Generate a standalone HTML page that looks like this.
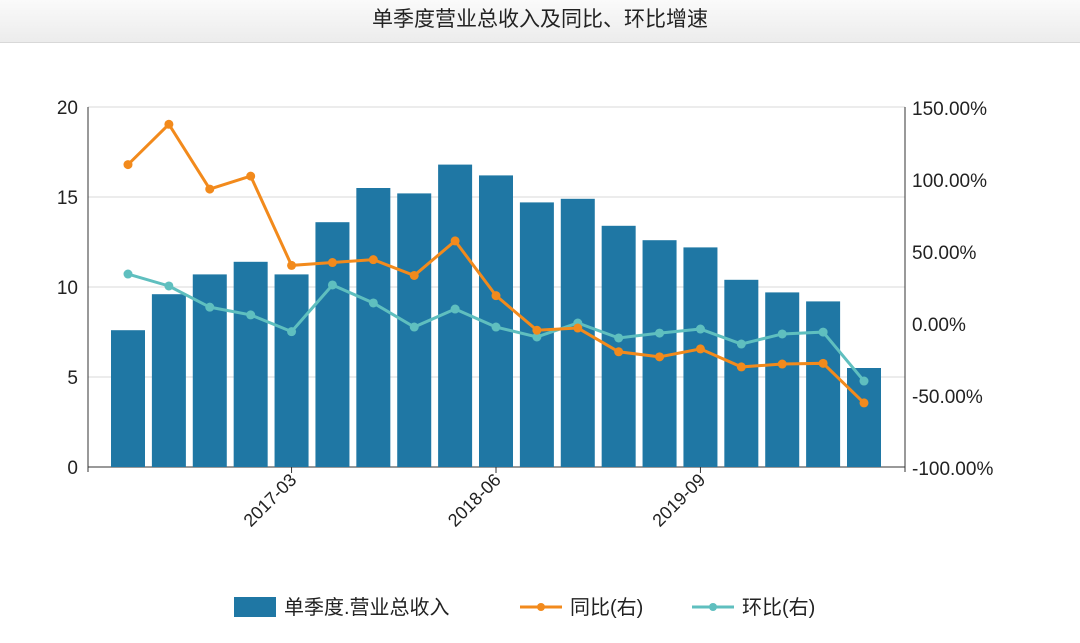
<!DOCTYPE html>
<html><head><meta charset="utf-8">
<style>
body{margin:0;width:1080px;height:643px;background:#fff;overflow:hidden;font-family:"Liberation Sans","Noto Sans CJK SC",sans-serif}
#title{position:absolute;left:0;top:0;width:1080px;height:42px;background:linear-gradient(#fafafa,#ececec);border-bottom:1px solid #d8d8d8;text-align:center;line-height:40px;font-size:21px;color:#222}
svg{position:absolute;left:0;top:0}
</style></head><body>
<div id="title">单季度营业总收入及同比、环比增速</div>
<svg id="chart" width="1080" height="643"></svg>
<script>
const categories=["2016-03","2016-06","2016-09","2016-12","2017-03","2017-06","2017-09","2017-12","2018-03","2018-06","2018-09","2018-12","2019-03","2019-06","2019-09","2019-12","2020-03","2020-06","2020-09"];
const revenue=[7.6,9.6,10.7,11.4,10.7,13.6,15.5,15.2,16.8,16.2,14.7,14.9,13.4,12.6,12.2,10.4,9.7,9.2,5.5];
const yoy=[110,138,93,102,40,42,44,33,57,19,-5,-3.5,-20,-23.5,-18,-30.5,-28.5,-28,-55.5];
const qoq=[34,25.7,11,5.6,-6,26.4,13.9,-2.8,9.7,-2.8,-9.7,0,-10.4,-7,-4.2,-14.6,-7.6,-6.3,-40.3];
const leftTicks=[0,5,10,15,20];
const rightTicks=[-100,-50,0,50,100,150];
const xLabelIdx=[4,9,14];
const NS="http://www.w3.org/2000/svg";
const svg=document.getElementById('chart');
const X0=88,X1=905,Y0=467,Y1=107;
const FIRST=128,LAST=864;
const step=(LAST-FIRST)/(categories.length-1);
const xc=i=>FIRST+step*i;
const yL=v=>Y0-(v/20)*(Y0-Y1);
const yR=v=>Y0-((v+100)/250)*(Y0-Y1);
function el(t,a,txt){const e=document.createElementNS(NS,t);for(const k in a)e.setAttribute(k,a[k]);if(txt!==undefined)e.textContent=txt;svg.appendChild(e);return e;}
leftTicks.forEach(v=>{
 const g=el('line',{x1:X0,x2:X1,y1:yL(v),y2:yL(v),stroke:v?'#d9d9d9':'#333','stroke-width':1});
 
 const t=el('text',{x:78,y:yL(v)+7,'text-anchor':'end','font-size':19,fill:'#222'},v);
 
});
rightTicks.forEach(v=>{
 const t=el('text',{x:912,y:yR(v)+8,'font-size':19,fill:'#222'},v.toFixed(2)+'%');
 
});
el('line',{x1:X0,x2:X0,y1:Y1,y2:Y0+5,stroke:'#333'});
el('line',{x1:X1,x2:X1,y1:Y1,y2:Y0+5,stroke:'#333'});
revenue.forEach((v,i)=>{
 const r=el('rect',{x:xc(i)-17,y:yL(v),width:34,height:Y0-yL(v),fill:'#1f77a4'});
 
});
xLabelIdx.forEach(i=>{
 const x=xc(i);
 el('line',{x1:x,x2:x,y1:Y0,y2:Y0+6,stroke:'#333'});
 const t=el('text',{x:x+6,y:Y0+14,'text-anchor':'end','font-size':18,fill:'#222',transform:`rotate(-45 ${x+6} ${Y0+14})`},categories[i]);
 
});
function series(arr,color,name){
 const p=el('polyline',{points:arr.map((v,i)=>xc(i)+','+yR(v)).join(' '),fill:'none',stroke:color,'stroke-width':3});
 
 arr.forEach((v,i)=>{const c=el('circle',{cx:xc(i),cy:yR(v),r:4.5,fill:color});
 });
}
series(qoq,'#5fbfbf','qoq');
series(yoy,'#f28a1c','yoy');
let r=el('rect',{x:234,y:597,width:42,height:20,fill:'#1f77a4'});

let t=el('text',{x:284,y:614,'font-size':20,fill:'#222'},'单季度.营业总收入');

el('line',{x1:520,x2:562,y1:607,y2:607,stroke:'#f28a1c','stroke-width':3});el('circle',{cx:541,cy:607,r:4,fill:'#f28a1c'});
t=el('text',{x:570,y:614,'font-size':20,fill:'#222'},'同比(右)');

el('line',{x1:692,x2:734,y1:607,y2:607,stroke:'#5fbfbf','stroke-width':3});el('circle',{cx:713,cy:607,r:4,fill:'#5fbfbf'});
t=el('text',{x:742,y:614,'font-size':20,fill:'#222'},'环比(右)');

</script>
</body></html>
